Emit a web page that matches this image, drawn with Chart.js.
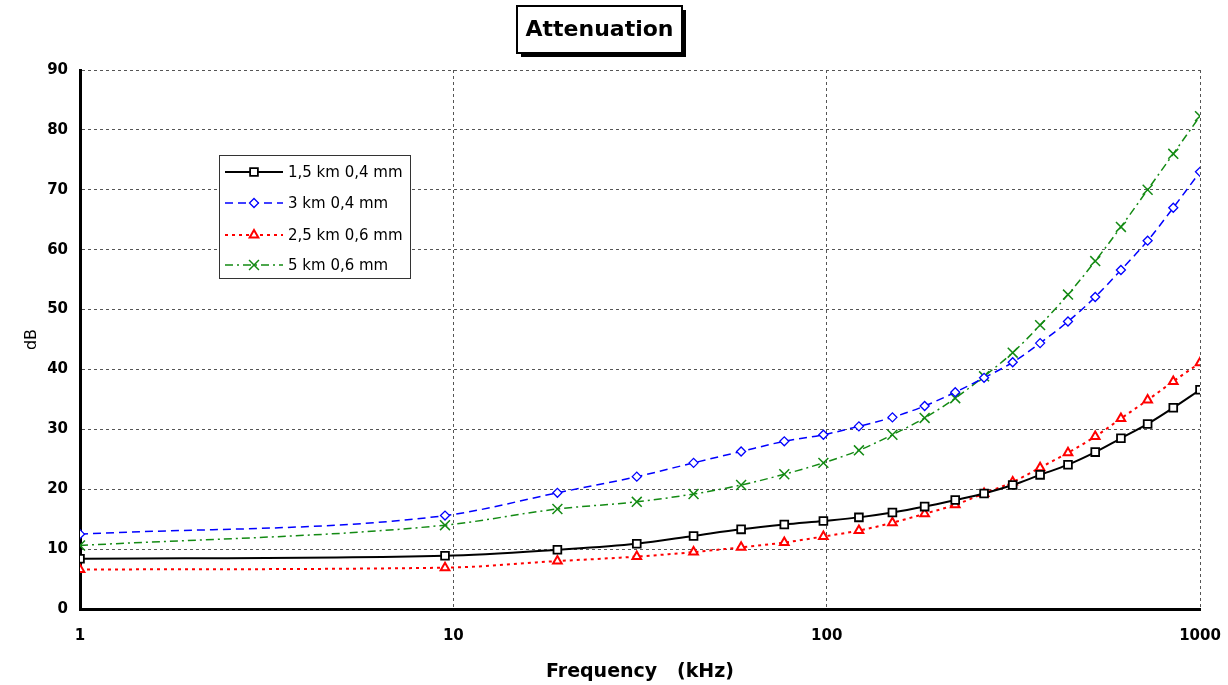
<!DOCTYPE html>
<html>
<head>
<meta charset="utf-8">
<script src="https://cdn.jsdelivr.net/npm/chart.js@4.4.0/dist/chart.umd.min.js"></script>
<style>
  body { margin: 0; background: #fff; }
  #wrap { width: 1228px; height: 685px; }
</style>
</head>
<body>
<div id="wrap"><canvas id="chart" width="1228" height="685"></canvas></div>
<script>
// frequencies (kHz)
const freq = [1, 9.5, 19, 31, 44, 59, 77, 98, 122, 150, 183, 221, 264, 315, 373, 443, 524, 614, 724, 848, 1000];

const km15_04 = [8.4, 8.9, 9.9, 10.9, 12.2, 13.3, 14.1, 14.7, 15.3, 16.1, 17.1, 18.2, 19.3, 20.7, 22.4, 24.1, 26.2, 28.5, 30.9, 33.6, 36.6];
const km3_04  = [12.5, 15.6, 19.4, 22.1, 24.4, 26.3, 28.0, 29.1, 30.5, 32.0, 33.9, 36.2, 38.6, 41.2, 44.4, 48.0, 52.1, 56.6, 61.5, 67.0, 73.0];
const km25_06 = [6.6, 6.9, 8.0, 8.75, 9.5, 10.3, 11.1, 12.1, 13.1, 14.4, 15.9, 17.4, 19.3, 21.2, 23.6, 26.1, 28.8, 31.8, 34.9, 38.0, 41.1];
const km5_06  = [10.6, 14.0, 16.7, 17.9, 19.2, 20.7, 22.5, 24.4, 26.5, 29.1, 31.9, 35.2, 38.85, 42.8, 47.4, 52.5, 58.1, 63.8, 70.0, 76.0, 82.3];

const seriesLabels = ['1,5 km 0,4 mm', '3 km 0,4 mm', '2,5 km 0,6 mm', '5 km 0,6 mm'];
const xTicks = [1, 10, 100, 1000];
const chartTitle = 'Attenuation';

Chart.defaults.font.family = "'DejaVu Sans', sans-serif";
Chart.defaults.color = '#000';

const pts = ys => ys.map((y, i) => ({ x: freq[i], y: y }));

// title in a framed box with a drop shadow
const titleBox = {
  id: 'titleBox',
  afterDraw(chart) {
    const ctx = chart.ctx;
    const x = 517, y = 6, w = 165, h = 47;
    ctx.save();
    ctx.fillStyle = '#000';
    ctx.fillRect(x + 4, y + 4, w, h);
    ctx.fillStyle = '#fff';
    ctx.fillRect(x, y, w, h);
    ctx.lineWidth = 2;
    ctx.strokeStyle = '#000';
    ctx.strokeRect(x, y, w, h);
    ctx.font = "bold 22px 'DejaVu Sans'";
    ctx.fillStyle = '#000';
    ctx.textAlign = 'center';
    ctx.textBaseline = 'middle';
    ctx.fillText(chartTitle, x + w / 2, y + h / 2 + 1);
    ctx.restore();
  }
};

// legend box sitting inside the plot, like the excel one
const boxLegend = {
  id: 'boxLegend',
  afterDraw(chart) {
    const ctx = chart.ctx;
    const bx = 219, by = 155, bw = 191, bh = 123;
    ctx.save();
    ctx.fillStyle = '#fff';
    ctx.fillRect(bx, by, bw, bh);
    ctx.strokeStyle = '#333';
    ctx.lineWidth = 1;
    ctx.strokeRect(bx + 0.5, by + 0.5, bw, bh);
    const rows = [172, 203, 235, 265];
    chart.data.datasets.forEach((ds, i) => {
      const y = rows[i];
      ctx.save();
      ctx.strokeStyle = ds.borderColor;
      ctx.lineWidth = ds.borderWidth;
      ctx.setLineDash(ds.borderDash || []);
      ctx.beginPath();
      ctx.moveTo(225, y);
      ctx.lineTo(283, y);
      ctx.stroke();
      ctx.setLineDash([]);
      ctx.strokeStyle = ds.pointBorderColor;
      ctx.fillStyle = ds.pointBackgroundColor;
      ctx.lineWidth = ds.pointBorderWidth;
      Chart.helpers.drawPoint(ctx, {
        pointStyle: ds.pointStyle, radius: ds.pointRadius,
        borderWidth: ds.pointBorderWidth, rotation: 0
      }, 254, y);
      ctx.restore();
      ctx.font = "15px 'DejaVu Sans'";
      ctx.fillStyle = '#000';
      ctx.textAlign = 'left';
      ctx.textBaseline = 'middle';
      ctx.fillText(ds.label, 288, y + 1);
    });
    ctx.restore();
  }
};

new Chart(document.getElementById('chart'), {
  type: 'line',
  data: {
    datasets: [
      {
        label: seriesLabels[0],
        data: pts(km15_04),
        borderColor: '#000',
        borderWidth: 2,
        pointStyle: 'rect',
        pointRadius: 5.5,
        pointBorderWidth: 1.8,
        pointBorderColor: '#000',
        pointBackgroundColor: '#fff'
      },
      {
        label: seriesLabels[1],
        data: pts(km3_04),
        borderColor: '#0000ff',
        borderWidth: 1.5,
        borderDash: [8, 5],
        pointStyle: 'rectRot',
        pointRadius: 4.5,
        pointBorderWidth: 1.3,
        pointBorderColor: '#0000ff',
        pointBackgroundColor: '#fff'
      },
      {
        label: seriesLabels[2],
        data: pts(km25_06),
        borderColor: '#ff0000',
        borderWidth: 2,
        borderDash: [3, 4],
        pointStyle: 'triangle',
        pointRadius: 5,
        pointBorderWidth: 2,
        pointBorderColor: '#ff0000',
        pointBackgroundColor: '#fff'
      },
      {
        label: seriesLabels[3],
        data: pts(km5_06),
        borderColor: '#138a13',
        borderWidth: 1.5,
        borderDash: [8, 4, 2, 4],
        pointStyle: 'crossRot',
        pointRadius: 7,
        pointBorderWidth: 1.5,
        pointBorderColor: '#138a13',
        pointBackgroundColor: '#138a13'
      }
    ]
  },
  options: {
    responsive: false,
    animation: false,
    cubicInterpolationMode: 'monotone',
    layout: { padding: { top: 70, right: 28, left: 0, bottom: 0 } },
    plugins: {
      legend: { display: false },
      title: { display: false },
      tooltip: { enabled: false }
    },
    scales: {
      x: {
        type: 'logarithmic',
        min: 1,
        max: 1000,
        afterBuildTicks: s => { s.ticks = xTicks.map(v => ({ value: v })); },
        afterFit: s => {
          s.height = 76;
          // keep the tick padding from pushing the plot edges in
          s.paddingLeft = 0;
          s.paddingRight = 0;
        },
        ticks: {
          autoSkip: false,
          maxRotation: 0,
          padding: 18,
          font: { size: 15, weight: 'bold' },
          callback: v => String(v)
        },
        grid: { color: '#555', lineWidth: 1, drawTicks: false },
        border: { display: true, color: '#000', width: 3, dash: [3, 3] },
        title: {
          display: true,
          text: 'Frequency   (kHz)',
          font: { size: 19, weight: 'bold' },
          padding: { top: 0, bottom: 2 }
        }
      },
      y: {
        min: 0,
        max: 90,
        afterFit: s => { s.width = 80; },
        ticks: {
          stepSize: 10,
          padding: 12,
          font: { size: 15, weight: 'bold' }
        },
        grid: { color: '#555', lineWidth: 1, drawTicks: false },
        border: { display: true, color: '#000', width: 3, dash: [3, 3] },
        title: {
          display: true,
          text: 'dB',
          font: { size: 16 },
          padding: { top: 22, bottom: 0 }
        }
      }
    }
  },
  plugins: [titleBox, boxLegend]
});
</script>
</body>
</html>
